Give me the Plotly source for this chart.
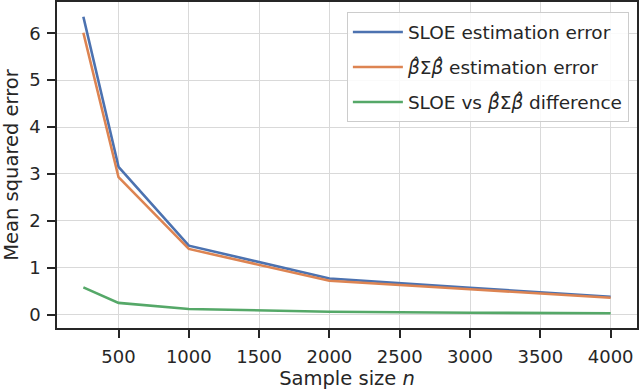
import plotly.graph_objects as go

sample_sizes = [250, 500, 1000, 2000, 3000, 4000]
sloe_error = [6.35, 3.15, 1.47, 0.77, 0.57, 0.38]
bsb_error = [6.01, 2.93, 1.40, 0.72, 0.54, 0.36]
difference = [0.58, 0.25, 0.12, 0.06, 0.04, 0.03]
x_ticks = [500, 1000, 1500, 2000, 2500, 3000, 3500, 4000]
y_ticks = [0, 1, 2, 3, 4, 5, 6]

names = [
    "SLOE estimation error",
    "<i>β̂</i>Σ<i>β̂</i> estimation error",
    "SLOE vs <i>β̂</i>Σ<i>β̂</i> difference",
]
colors = ["#4C72B0", "#DD8452", "#55A868"]

fig = go.Figure()
for i, (ys, nm, c) in enumerate(zip([sloe_error, bsb_error, difference], names, colors)):
    fig.add_trace(go.Scatter(x=sample_sizes, y=ys, mode="lines", name=nm,
                             legendgroup=f"g{i}",
                             line=dict(color=c, width=2.6)))

font = "DejaVu Sans, sans-serif"
txt = "#262626"
axis_common = dict(
    showline=True, mirror=True, linecolor=txt, linewidth=1.6,
    showgrid=True, gridcolor="#d9d9d9", gridwidth=1.3,
    ticks="outside", ticklen=8, tickwidth=1.6, tickcolor=txt,
    zeroline=False, automargin=False,
    tickfont=dict(size=18, color=txt, family=font),
)
fig.update_xaxes(range=[62.5, 4187.5], tickvals=x_ticks, ticklabelstandoff=4,
                 title=dict(text="Sample size <i>n</i>", font=dict(size=19.5, color=txt, family=font), standoff=4),
                 **axis_common)
fig.update_yaxes(range=[-0.286, 6.666], tickvals=y_ticks, ticklabelstandoff=3,
                 title=dict(text="Mean squared error", font=dict(size=19.5, color=txt, family=font), standoff=10),
                 **axis_common)
fig.update_layout(
    width=640, height=392,
    margin=dict(l=57, r=3, t=2, b=64),
    plot_bgcolor="white", paper_bgcolor="white",
    font=dict(family=font, color=txt),
    legend=dict(x=0.986, y=0.968, xanchor="right", yanchor="top",
                bgcolor="rgba(255,255,255,0.85)", bordercolor="#cccccc", borderwidth=1,
                tracegroupgap=8,
                font=dict(size=18.5, color=txt, family=font), itemwidth=50),
    showlegend=True,
)
fig.write_html("out.html", config={"displayModeBar": False},
               post_script="document.body.style.margin='0';document.body.style.overflow='hidden';")
